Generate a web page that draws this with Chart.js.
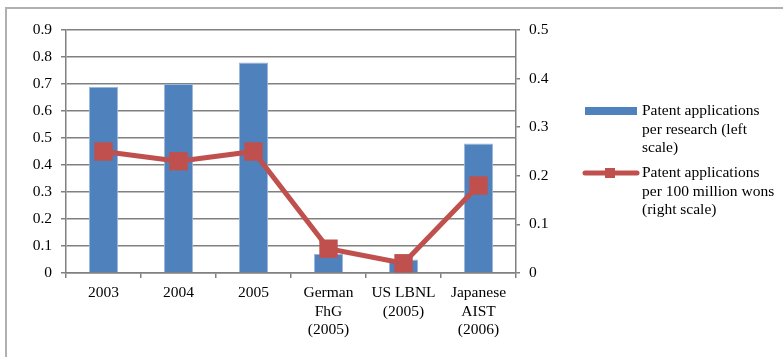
<!DOCTYPE html>
<html>
<head>
<meta charset="utf-8">
<script src="https://cdn.jsdelivr.net/npm/chart.js@4.4.0/dist/chart.umd.min.js"></script>
<style>
    html, body { margin: 0; padding: 0; background: #fff; overflow: hidden; }
    #wrap { position: relative; width: 783px; height: 357px; }
    #frame { position: absolute; left: 5px; top: 7px; width: 800px; height: 400px;
             border-top: 2px solid #b0b0b0; border-left: 2px solid #b0b0b0; }
    #chart { position: absolute; left: 0; top: 0; }
</style>
</head>
<body>
<div id="wrap">
    <div id="frame"></div>
    <canvas id="chart" width="783" height="357"></canvas>
</div>
<script>
    // categories on the x axis (multi-line labels)
    const categories = [
        "2003", "2004", "2005",
        ["German", "FhG", "(2005)"],
        ["US LBNL", "(2005)"],
        ["Japanese", "AIST", "(2006)"]
    ];
    // patent applications per research (left scale)
    const perResearch = [0.69, 0.70, 0.78, 0.07, 0.05, 0.48];
    // patent applications per 100 million wons (right scale)
    const perWons = [0.25, 0.23, 0.25, 0.05, 0.02, 0.18];
    const legendLines = [
        ["Patent applications", "per research (left", "scale)"],
        ["Patent applications", "per 100 million wons", "(right scale)"]
    ];

    const blue = "#4F81BD";
    const red = "#C0504D";
    const gridGray = "#808080";
    const fontFamily = '"Liberation Serif", "Times New Roman", serif';
    const fontSize = 15.5;

    Chart.defaults.font.family = fontFamily;
    Chart.defaults.font.size = fontSize;
    Chart.defaults.color = "#000";

    // legend on the right, with wrapped text like the original
    const sideLegend = {
        id: 'sideLegend',
        afterDraw(chart) {
            const ctx = chart.ctx;
            ctx.save();
            ctx.font = fontSize + 'px ' + fontFamily;
            ctx.textBaseline = 'middle';
            ctx.textAlign = 'left';

            // bar entry
            ctx.fillStyle = blue;
            ctx.fillRect(585, 107, 52, 8);
            ctx.fillStyle = '#000';
            legendLines[0].forEach(function(t, i) {
                ctx.fillText(t, 642, 111 + i * 18.5);
            });

            // line entry
            ctx.strokeStyle = red;
            ctx.lineWidth = 5;
            ctx.lineCap = 'round';
            ctx.beginPath();
            ctx.moveTo(585, 173);
            ctx.lineTo(637, 173);
            ctx.stroke();
            ctx.fillStyle = red;
            ctx.fillRect(605, 168, 10, 10);
            ctx.fillStyle = '#000';
            legendLines[1].forEach(function(t, i) {
                ctx.fillText(t, 642, 173 + i * 18.5);
            });
            ctx.restore();
        }
    };

    new Chart(document.getElementById('chart'), {
        type: 'bar',
        data: {
            labels: categories,
            datasets: [{
                type: 'line',
                label: legendLines[1].join(' '),
                data: perWons,
                yAxisID: 'y1',
                borderColor: red,
                backgroundColor: red,
                borderWidth: 5,
                pointStyle: 'rect',
                pointRadius: 13,
                pointBorderWidth: 0,
                tension: 0,
                order: 1
            }, {
                type: 'bar',
                label: legendLines[0].join(' '),
                data: perResearch,
                yAxisID: 'y',
                backgroundColor: blue,
                borderColor: '#9db7dc',
                borderWidth: { left: 1, right: 1, top: 1, bottom: 0 },
                barPercentage: 0.39,
                categoryPercentage: 1,
                order: 2
            }]
        },
        options: {
            responsive: false,
            animation: false,
            layout: {
                padding: { left: 0, right: 207, top: 30, bottom: 0 }
            },
            plugins: {
                legend: { display: false },
                tooltip: { enabled: false }
            },
            scales: {
                x: {
                    afterFit: function(scale) { scale.height = 84; },
                    grid: {
                        offset: true,
                        drawOnChartArea: false,
                        tickLength: 5,
                        color: gridGray,
                        lineWidth: 1.5
                    },
                    border: { color: gridGray, width: 1.5 },
                    ticks: {
                        maxRotation: 0,
                        autoSkip: false,
                        padding: 6,
                        font: { size: fontSize, lineHeight: 1.19 }
                    }
                },
                y: {
                    position: 'left',
                    min: 0,
                    max: 0.9,
                    afterFit: function(scale) { scale.width = 66; },
                    grid: {
                        color: gridGray,
                        lineWidth: 1.5,
                        tickLength: 5
                    },
                    border: { color: gridGray, width: 1.5 },
                    ticks: { stepSize: 0.1, padding: 9 }
                },
                y1: {
                    position: 'right',
                    min: 0,
                    max: 0.5,
                    afterFit: function(scale) { scale.width = 60; },
                    grid: {
                        drawOnChartArea: false,
                        color: gridGray,
                        lineWidth: 1.5,
                        tickLength: 4
                    },
                    border: { color: gridGray, width: 1.5 },
                    ticks: { stepSize: 0.1, padding: 9 }
                }
            }
        },
        plugins: [sideLegend]
    });
</script>
</body>
</html>
